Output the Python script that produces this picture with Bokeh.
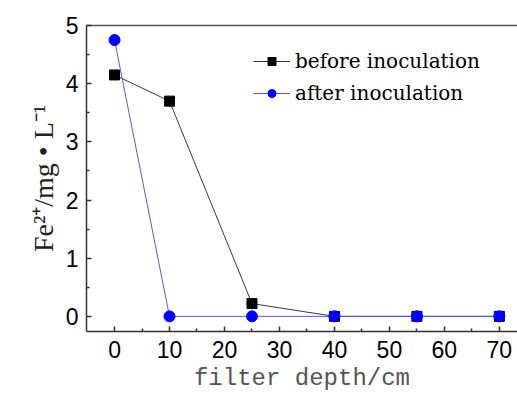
from bokeh.plotting import figure
from bokeh.models import (ColumnDataSource, Legend, LegendItem, LinearAxis,
                          FixedTicker, Range1d)
from bokeh.embed import file_html
from bokeh.resources import INLINE

# Fe2+ concentration along the filter column
depth = [0, 10, 25, 40, 55, 70]
before_inoc = [4.15, 3.70, 0.22, 0.0, 0.0, 0.0]
after_inoc = [4.75, 0.0, 0.0, 0.0, 0.0, 0.0]
x_ticks = [0, 10, 20, 30, 40, 50, 60, 70]
y_ticks = [0, 1, 2, 3, 4, 5]

src = ColumnDataSource(dict(depth=depth, before=before_inoc, after=after_inoc))

p = figure(width=517, height=396, output_backend="svg", toolbar_location=None,
           x_range=Range1d(-5.1, 73.3), y_range=Range1d(-0.26, 5.0),
           min_border_left=86, min_border_right=0, min_border_top=25,
           min_border_bottom=65)
p.outline_line_color = None
p.xgrid.visible = False
p.ygrid.visible = False
p.background_fill_color = "white"
p.border_fill_color = "white"

r1l = p.line("depth", "before", source=src, line_color="#222222", line_width=0.9)
r1m = p.scatter("depth", "before", source=src, marker="square", size=10,
                fill_color="black", line_color="black")
r2l = p.line("depth", "after", source=src, line_color="#5858e8", line_width=1)
r2m = p.scatter("depth", "after", source=src, marker="circle", size=11,
                fill_color="#0000ff", line_color="#0000ff")

axis_color = "#333333"
for ax in (p.xaxis[0], p.yaxis[0]):
    ax.axis_line_color = axis_color
    ax.axis_line_width = 1.5
    ax.major_tick_line_color = axis_color
    ax.minor_tick_line_color = axis_color
    ax.major_tick_line_width = 1.5
    ax.minor_tick_line_width = 1.5
    ax.major_tick_in = 5
    ax.major_tick_out = 0
    ax.minor_tick_in = 3
    ax.minor_tick_out = 0
    ax.major_label_text_font = "Liberation Sans"
    ax.major_label_text_color = "black"

p.xaxis.ticker = FixedTicker(ticks=x_ticks, minor_ticks=[5, 15, 25, 35, 45, 55, 65])
p.yaxis.ticker = FixedTicker(ticks=y_ticks, minor_ticks=[0.5, 1.5, 2.5, 3.5, 4.5])
p.xaxis.major_label_text_font_size = "23px"
p.yaxis.major_label_text_font_size = "23px"
p.xaxis.major_label_standoff = 9
p.yaxis.major_label_standoff = 8

p.xaxis.axis_label = "filter depth/cm"
p.xaxis.axis_label_text_font = "Liberation Mono"
p.xaxis.axis_label_text_font_size = "24px"
p.xaxis.axis_label_text_font_style = "normal"
p.xaxis.axis_label_text_color = "#555555"
p.xaxis.axis_label_standoff = 4

p.yaxis.axis_label = "Fe²⁺/mg • L⁻¹"
p.yaxis.axis_label_text_font = "Liberation Serif"
p.yaxis.axis_label_text_font_size = "28px"
p.yaxis.axis_label_text_font_style = "normal"
p.yaxis.axis_label_text_color = "#222222"
p.yaxis.axis_label_standoff = 4

# top border line of the frame
top = LinearAxis(axis_line_color="#555555", axis_line_width=1.5,
                 major_tick_line_color=None, minor_tick_line_color=None,
                 major_label_text_font_size="0px")
top.ticker = FixedTicker(ticks=[])
p.add_layout(top, "above")

legend = Legend(items=[
    LegendItem(label="before inoculation", renderers=[r1l, r1m]),
    LegendItem(label="after inoculation", renderers=[r2l, r2m]),
], location=(167, 226))
legend.background_fill_alpha = 0
legend.border_line_color = None
legend.padding = 0
legend.margin = 0
legend.spacing = 8
legend.glyph_width = 37
legend.glyph_height = 20
legend.label_height = 20
legend.label_standoff = 5
legend.label_text_font = "DejaVu Serif"
legend.label_text_font_size = "20px"
legend.label_text_color = "black"
p.add_layout(legend, "center")

open("out.html", "w").write(file_html(p, INLINE))
